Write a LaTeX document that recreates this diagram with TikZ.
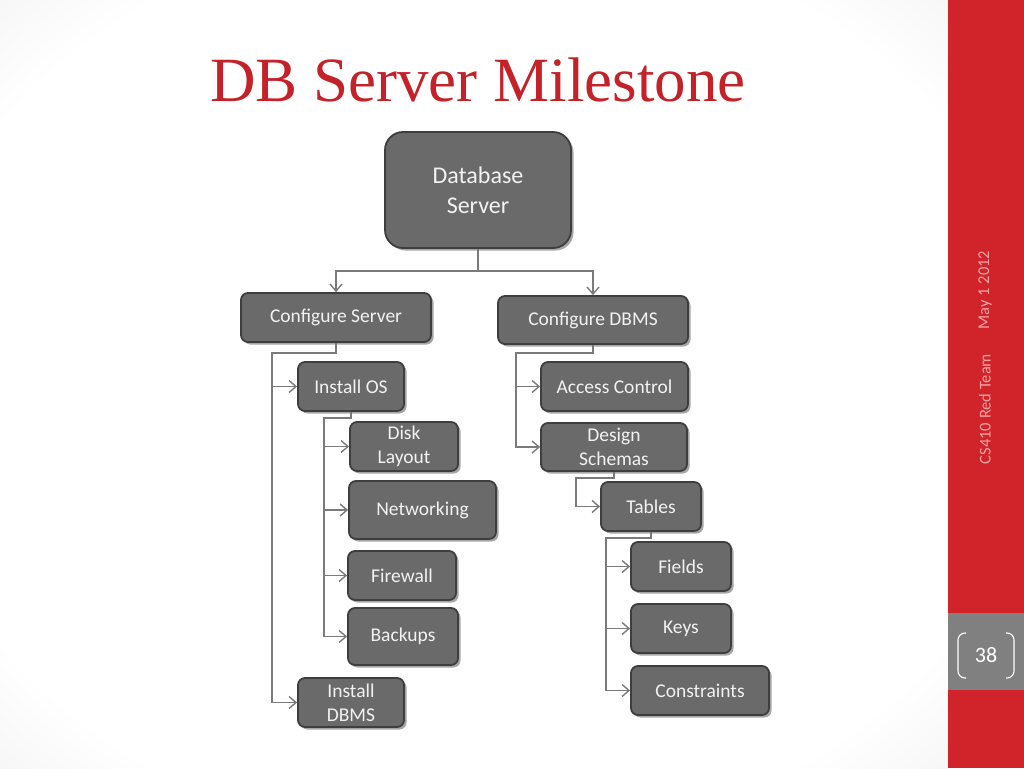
\documentclass[tikz,border=0pt]{standalone}
\usepackage{fontspec}
\setmainfont{Carlito}
\newfontfamily\titlefont{Liberation Serif}
\usepackage{tikz}
\usetikzlibrary{arrows.meta,shadows}
\definecolor{boxgray}{HTML}{6A6A6A}
\definecolor{boxedge}{HTML}{3E3E3E}
\definecolor{linegray}{HTML}{7A7A7A}
\definecolor{bandred}{HTML}{D0232A}
\definecolor{titlered}{HTML}{C42128}
\definecolor{pagegray}{HTML}{808080}
\definecolor{sidepink}{HTML}{F3A3A6}
\pgfdeclareradialshading{slidebg}{\pgfpoint{0bp}{0bp}}{%
  color(0bp)=(white); color(30bp)=(white); color(50bp)=(black!12);
  color(72bp)=(black!16); color(100bp)=(black!16)}

\begin{document}
\begin{tikzpicture}[x=1pt,y=-1pt,
  b/.style={draw=boxedge,line width=1.8pt,fill=boxgray,rounded corners=7pt,
    text=white!95!black,align=center,inner sep=0pt,
    font=\fontsize{19.5}{24}\selectfont,
    drop shadow={shadow xshift=2.5pt,shadow yshift=-2.5pt,opacity=.35,fill=black}},
  a/.style={draw=linegray,line width=1.4pt,-{Straight Barb[length=7pt,width=12pt]}}]
\useasboundingbox (0,0) rectangle (1024,768);
% slide background
\shade[shading=slidebg] (0,0) rectangle (948,768);
\fill[bandred] (948,0) rectangle (1024,768);
\fill[pagegray] (948,613) rectangle (1024,690);
\node[anchor=base west,text=titlered,font=\titlefont\fontsize{63}{70}\selectfont,inner sep=0pt] (title) at (210,101) {DB Server Milestone};
\node[rotate=90,text=sidepink,font=\fontsize{16.5}{18}\selectfont] (date) at (985,290) {May 1 2012};
\node[rotate=90,text=sidepink,font=\fontsize{16.5}{18}\selectfont] (team) at (985,409) {CS410 Red Team};
\node[text=white,font=\fontsize{22}{24}\selectfont] (pg) at (986,655) {38};
\draw[white,line width=1.1pt,rounded corners=7pt] (966,633) -- (958,633) -- (958,678) -- (966,678);
\draw[white,line width=1.1pt,rounded corners=7pt] (1006,633) -- (1014,633) -- (1014,678) -- (1006,678);
% boxes
\node[b,rounded corners=18pt,minimum width=186pt,minimum height=116pt,font=\fontsize{24}{30}\selectfont] (db) at (478,190) {Database\\Server};
\node[b,minimum width=190pt,minimum height=49pt] (cs) at (336,317.5) {Configure Server};
\node[b,minimum width=190pt,minimum height=48pt] (cd) at (593,320) {Configure DBMS};
\node[b,minimum width=106pt,minimum height=49pt] (io) at (351,386.5) {Install OS};
\node[b,minimum width=108pt,minimum height=49pt] (dl) at (404,446.5) {Disk\\Layout};
\node[b,minimum width=147pt,minimum height=58pt] (nw) at (422.5,510) {Networking};
\node[b,minimum width=108pt,minimum height=49pt] (fw) at (402,575.5) {Firewall};
\node[b,minimum width=110pt,minimum height=57pt] (bk) at (403,636.5) {Backups};
\node[b,minimum width=106pt,minimum height=49pt] (idb) at (351,702.5) {Install\\DBMS};
\node[b,minimum width=147pt,minimum height=49pt] (ac) at (614.5,386.5) {Access Control};
\node[b,minimum width=146pt,minimum height=48pt] (ds) at (614,447) {Design\\Schemas};
\node[b,minimum width=100pt,minimum height=49pt] (tb) at (651,506.5) {Tables};
\node[b,minimum width=100pt,minimum height=49pt] (fd) at (681,566.5) {Fields};
\node[b,minimum width=100pt,minimum height=49pt] (ky) at (681,628.5) {Keys};
\node[b,minimum width=138pt,minimum height=49pt] (cn) at (700,690.5) {Constraints};
% trunk x positions
\coordinate (csx) at (272,0);
\coordinate (iox) at (324,0);
\coordinate (cdx) at (516,0);
\coordinate (dsx) at (576,0);
\coordinate (tbx) at (606,0);
% connectors
\draw[a] (db.south) -- ++(0,22) -| (cs.north);
\draw[a] (db.south) -- ++(0,22) -| (cd.north);
\draw[a] (cs.south) -- ++(0,10) -| (csx |- idb.west) -- (idb.west);
\draw[a] (csx |- io.west) -- (io.west);
\draw[a] (io.south) -- ++(0,6) -| (iox |- bk.west) -- (bk.west);
\draw[a] (iox |- dl.west) -- (dl.west);
\draw[a] (iox |- nw.west) -- (nw.west);
\draw[a] (iox |- fw.west) -- (fw.west);
\draw[a] (cd.south) -- ++(0,8) -| (cdx |- ds.west) -- (ds.west);
\draw[a] (cdx |- ac.west) -- (ac.west);
\draw[a] (ds.south) -- ++(0,6) -| (dsx |- tb.west) -- (tb.west);
\draw[a] (tb.south) -- ++(0,6) -| (tbx |- cn.west) -- (cn.west);
\draw[a] (tbx |- fd.west) -- (fd.west);
\draw[a] (tbx |- ky.west) -- (ky.west);
\end{tikzpicture}
\end{document}
